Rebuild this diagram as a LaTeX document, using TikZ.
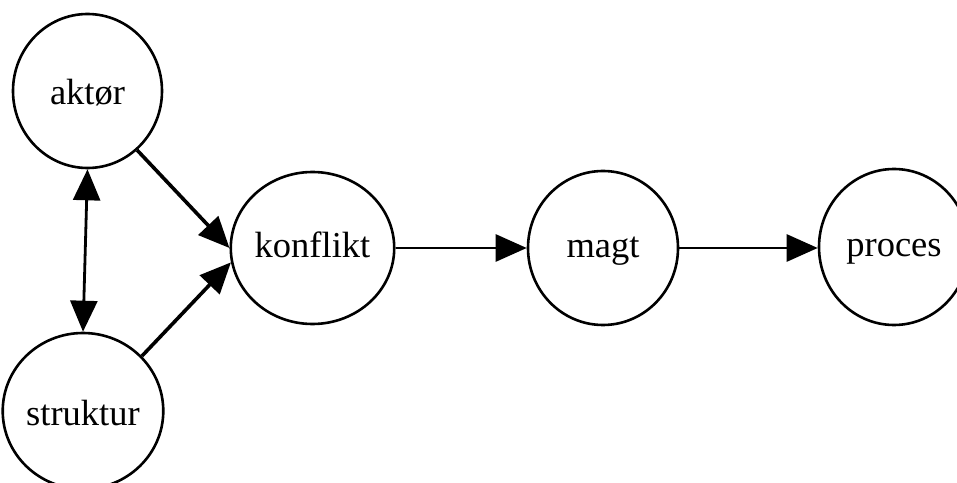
\documentclass[tikz,border=0pt]{standalone}
\usepackage{fontspec}
\setmainfont{Liberation Serif}
\usetikzlibrary{arrows.meta,shapes.geometric}
\begin{document}
\begin{tikzpicture}[x=1pt,y=1pt,
  concept/.style={ellipse,draw=black,line width=2.6pt,inner sep=0pt,
    text height=27pt,text depth=7pt,
    font=\fontsize{36.5}{40}\selectfont},
  link/.style={line width=2.8pt,-{Triangle[length=31pt,width=27pt]}},
  biglink/.style={link,line width=3.6pt}]
  \useasboundingbox (0,0) rectangle (957,482);
  % concept circles
  \node[concept,minimum width=149pt,minimum height=154pt,text height=35pt] (aktor)    at (87.5,391) {aktør};
  \node[concept,minimum width=142pt,minimum height=156pt,text height=35pt] (struktur) at (83,71)    {struktur};
  \node[concept,minimum width=149pt,minimum height=152pt] (konflikt) at (312.5,234) {konflikt};
  \node[concept,minimum width=150pt,minimum height=154pt] (magt)     at (603,234)   {magt};
  \node[concept,minimum width=150pt,minimum height=156pt] (proces)   at (894,235)   {proces};
  % connectors
  \draw[link,{Triangle[length=31pt,width=27pt]}-{Triangle[length=31pt,width=27pt]}]
    (aktor.south) -- (struktur.north);
  \draw[biglink] (aktor.-50) -- (konflikt.180);
  \draw[biglink] (struktur.43) -- (konflikt.190);
  \draw[link] (konflikt.east) -- (magt.west);
  \draw[link] (magt.east) -- (magt.east -| proces.west);
\end{tikzpicture}
\end{document}
